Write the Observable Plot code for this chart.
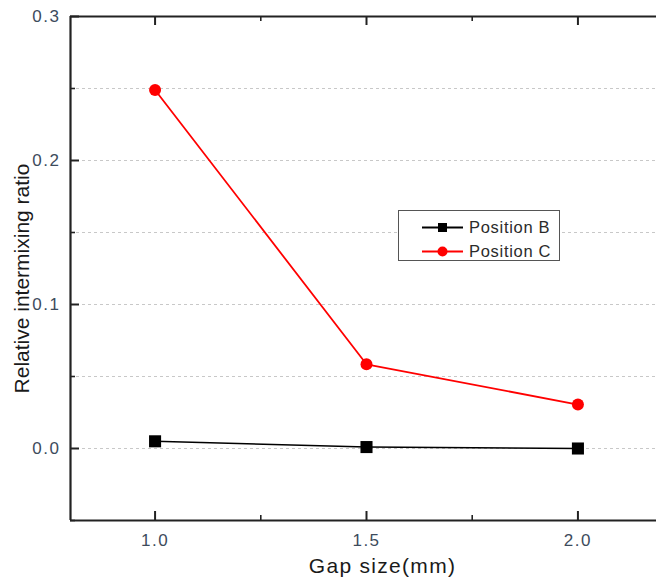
<!DOCTYPE html>
<html>
<head>
<meta charset="utf-8">
<script src="https://cdn.jsdelivr.net/npm/d3@7"></script>
<script src="https://cdn.jsdelivr.net/npm/@observablehq/plot@0.6"></script>
<style>
  html, body { margin: 0; padding: 0; background: #fff; }
  #chart { position: relative; width: 656px; height: 580px; overflow: hidden; font-family: "Liberation Sans", Arial, sans-serif; }
  #legend { position: absolute; left: 398px; top: 210px; width: 162px; height: 51px; border: 1.5px solid #555; background: #fff; box-sizing: border-box; }
  .row { position: absolute; left: 0; height: 18px; display: flex; align-items: center; font-size: 16.5px; letter-spacing: 0.7px; color: #2b2b2b; }
  .row svg { margin-right: 4px; }
  .tick-label text { letter-spacing: 1.5px; }
  .x-title text { letter-spacing: 1.3px; }
</style>
</head>
<body>
<div id="chart"></div>
<script>
// Gap sizes (mm) and the relative intermixing ratio at each probe position
const gapSizes = [1.0, 1.5, 2.0];
const positionB = [0.005, 0.001, 0.0];
const positionC = [0.249, 0.0585, 0.0305];
const seriesNames = ["Position B", "Position C"];
const seriesColors = ["#000000", "#ff0000"];
const xTicks = [1.0, 1.5, 2.0];
const xMinor = [1.25, 1.75];
const yTicks = [0.0, 0.1, 0.2, 0.3];
const yMinor = [-0.05, 0.05, 0.15, 0.25];
const gridValues = [0.0, 0.05, 0.1, 0.15, 0.2, 0.25];

const rows = [
  ...gapSizes.map((g, i) => ({gap: g, ratio: positionB[i], series: seriesNames[0]})),
  ...gapSizes.map((g, i) => ({gap: g, ratio: positionC[i], series: seriesNames[1]}))
];
const bRows = rows.filter(d => d.series === seriesNames[0]);
const cRows = rows.filter(d => d.series === seriesNames[1]);

const W = 656, H = 580;
const mL = 70, mR = -6, mT = 16, mB = 60;
const frameW = W - mL - mR, frameH = H - mT - mB;
const majorLen = 9, minorLen = 5;

const xDomain = [0.8, 2.2];
const yDomain = [-0.05, 0.3];
const axisColor = "#222";
const labelColor = "#3d4b5c";
const fmt = d3.format(".1f");

const plot = Plot.plot({
  width: W,
  height: H,
  marginLeft: mL,
  marginRight: mR,
  marginTop: mT,
  marginBottom: mB,
  style: {fontFamily: "Liberation Sans, Arial, sans-serif", background: "#fff", fontSize: "17px"},
  x: {domain: xDomain, axis: null},
  y: {domain: yDomain, axis: null},
  marks: [
    // dotted horizontal guide lines
    Plot.ruleY(gridValues, {stroke: "#c8c8c8", strokeWidth: 1.2, strokeDasharray: "3,3"}),
    // frame: left, top and bottom edges
    Plot.ruleX([xDomain[0]], {stroke: axisColor, strokeWidth: 2.2}),
    Plot.ruleY([yDomain[0]], {stroke: axisColor, strokeWidth: 2.2}),
    Plot.ruleY([yDomain[1]], {stroke: axisColor, strokeWidth: 2.2}),
    // inward ticks on the left edge
    Plot.tickY(yTicks, {y: d => d, insetRight: frameW - majorLen, stroke: axisColor, strokeWidth: 2}),
    Plot.tickY(yMinor, {y: d => d, insetRight: frameW - minorLen, stroke: axisColor, strokeWidth: 1.6}),
    // inward ticks on the bottom and top edges
    Plot.tickX(xTicks, {x: d => d, insetTop: frameH - majorLen, stroke: axisColor, strokeWidth: 2}),
    Plot.tickX(xMinor, {x: d => d, insetTop: frameH - minorLen, stroke: axisColor, strokeWidth: 1.6}),
    Plot.tickX(xTicks, {x: d => d, insetBottom: frameH - majorLen, stroke: axisColor, strokeWidth: 2}),
    Plot.tickX(xMinor, {x: d => d, insetBottom: frameH - minorLen, stroke: axisColor, strokeWidth: 1.6}),
    // tick labels
    Plot.text(yTicks, {y: d => d, text: d => fmt(d), frameAnchor: "left", textAnchor: "end", dx: -10, fontSize: 17, fill: labelColor, className: "tick-label"}),
    Plot.text(xTicks, {x: d => d, text: d => fmt(d), frameAnchor: "bottom", lineAnchor: "top", dy: 13, fontSize: 17, fill: labelColor, className: "tick-label"}),
    // axis titles
    Plot.text(["Relative intermixing ratio"], {frameAnchor: "left", textAnchor: "middle", dx: -48, dy: 10, rotate: -90, fontSize: 21, fill: "#1a1a1a"}),
    Plot.text(["Gap size(mm)"], {frameAnchor: "bottom", lineAnchor: "bottom", dx: 16, dy: 52, fontSize: 21, fill: "#1a1a1a", className: "x-title"}),
    // series
    Plot.line(bRows, {x: "gap", y: "ratio", stroke: seriesColors[0], strokeWidth: 1.5}),
    Plot.line(cRows, {x: "gap", y: "ratio", stroke: seriesColors[1], strokeWidth: 1.8}),
    Plot.dot(bRows, {x: "gap", y: "ratio", symbol: "square", r: 6.8, fill: seriesColors[0], stroke: "none"}),
    Plot.dot(cRows, {x: "gap", y: "ratio", r: 6, fill: seriesColors[1], stroke: "none"})
  ]
});

const chart = document.getElementById("chart");
chart.appendChild(plot);

// legend box
const legend = document.createElement("div");
legend.id = "legend";
seriesNames.forEach((name, i) => {
  const row = document.createElement("div");
  row.className = "row";
  row.style.top = (i === 0 ? 7 : 31) + "px";
  const marker = i === 0
    ? `<rect x="39" y="5" width="9" height="9" fill="${seriesColors[i]}"/>`
    : `<circle cx="43.5" cy="9.5" r="5" fill="${seriesColors[i]}"/>`;
  row.innerHTML = `<svg width="66" height="18"><line x1="23" x2="64" y1="9.5" y2="9.5" stroke="${seriesColors[i]}" stroke-width="1.8"/>${marker}</svg><span>${name}</span>`;
  legend.appendChild(row);
});
chart.appendChild(legend);
</script>
</body>
</html>
